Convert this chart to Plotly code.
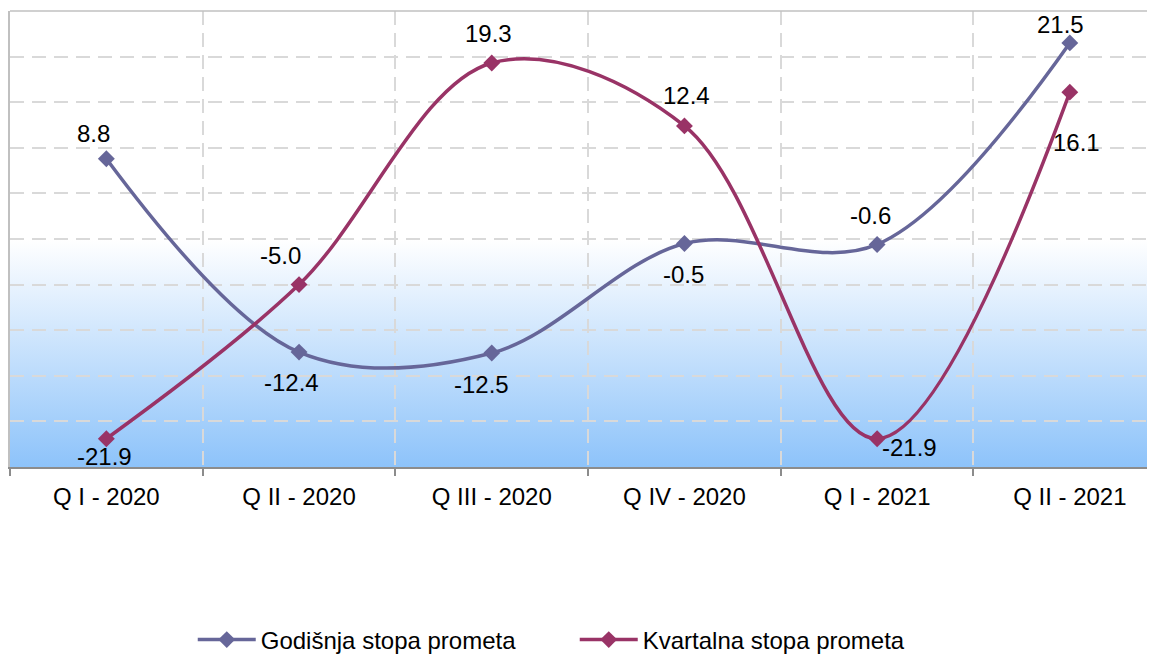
import base64
import plotly.graph_objects as go

categories = ["Q I - 2020", "Q II - 2020", "Q III - 2020", "Q IV - 2020", "Q I - 2021", "Q II - 2021"]
godisnja = [8.8, -12.4, -12.5, -0.5, -0.6, 21.5]
kvartalna = [-21.9, -5.0, 19.3, 12.4, -21.9, 16.1]
series_names = ["Godišnja stopa prometa", "Kvartalna stopa prometa"]

# label offsets in pixels (dx, dy; dy positive = down)
g_offsets = [(-13, -25), (-8, 30), (-10, 31), (-1, 31), (-7, -29), (-9, -18)]
k_offsets = [(-2, 18), (-19, -29), (-3, -29), (2, -30), (32, 9), (7, 50)]

C_G = "#666699"
C_K = "#993366"
FONT = "Liberation Sans, Arial, sans-serif"
FS = 24

svg = (
    '<svg xmlns="http://www.w3.org/2000/svg" width="100" height="100" preserveAspectRatio="none">'
    '<defs><linearGradient id="g" x1="0" y1="0" x2="0" y2="1">'
    '<stop offset="0" stop-color="#ffffff"/>'
    '<stop offset="0.5" stop-color="#ffffff"/>'
    '<stop offset="1" stop-color="#8dc3fa"/>'
    '</linearGradient></defs>'
    '<rect width="100" height="100" fill="url(#g)"/></svg>'
)
svg_uri = "data:image/svg+xml;base64," + base64.b64encode(svg.encode()).decode()

fig = go.Figure()
for name, vals, col in [(series_names[0], godisnja, C_G), (series_names[1], kvartalna, C_K)]:
    fig.add_trace(go.Scatter(
        x=categories, y=vals, name=name, mode="lines+markers",
        line=dict(color=col, width=3.5, shape="spline", smoothing=1.0),
        marker=dict(symbol="diamond", size=13, color=col),
    ))

annotations = []
for vals, offs in [(godisnja, g_offsets), (kvartalna, k_offsets)]:
    for c, v, (dx, dy) in zip(categories, vals, offs):
        annotations.append(dict(
            x=c, y=v, xref="x", yref="y", text=f"{v:.1f}", showarrow=False,
            xshift=dx, yshift=-dy, xanchor="center", yanchor="middle",
            font=dict(family=FONT, size=FS, color="#000000"),
        ))

fig.update_layout(
    width=1147, height=660,
    margin=dict(l=2, r=0, t=3, b=201),
    paper_bgcolor="#ffffff", plot_bgcolor="rgba(0,0,0,0)",
    font=dict(family=FONT, size=FS, color="#000000"),
    showlegend=True,
    legend=dict(
        orientation="h", x=0.1596, xanchor="left", y=-0.3794, yanchor="middle",
        font=dict(family=FONT, size=FS, color="#000000"),
        entrywidth=309, entrywidthmode="pixels", bgcolor="rgba(0,0,0,0)",
        itemwidth=58,
    ),
    annotations=annotations,
    images=[dict(
        source=svg_uri, xref="paper", yref="paper", x=0, y=1, sizex=1, sizey=1,
        xanchor="left", yanchor="top", sizing="stretch", layer="below",
    )],
    shapes=[dict(type="line", xref="paper", yref="paper", x0=0, x1=1, y0=1, y1=1,
                 line=dict(color="#c0c0c0", width=1.5))],
)
fig.update_xaxes(
    type="category", range=[-0.5, 5.442], tickson="boundaries",
    ticks="outside", ticklen=7, tickwidth=1.5, tickcolor="#8c8c8c",
    showline=True, linecolor="#8c8c8c", linewidth=1.5,
    showgrid=True, gridcolor="#d9d9d9", gridwidth=1.5, griddash="14px,8px",
    tickfont=dict(family=FONT, size=FS, color="#000000"),
    ticklabelstandoff=7,
)
fig.update_yaxes(
    range=[-25, 25], dtick=5, tick0=0, showticklabels=False, ticks="",
    showline=True, linecolor="#c0c0c0", linewidth=1.5,
    showgrid=True, gridcolor="#d9d9d9", gridwidth=1.5, griddash="14px,8px",
    zeroline=False,
)

fig.write_html("out.html")
